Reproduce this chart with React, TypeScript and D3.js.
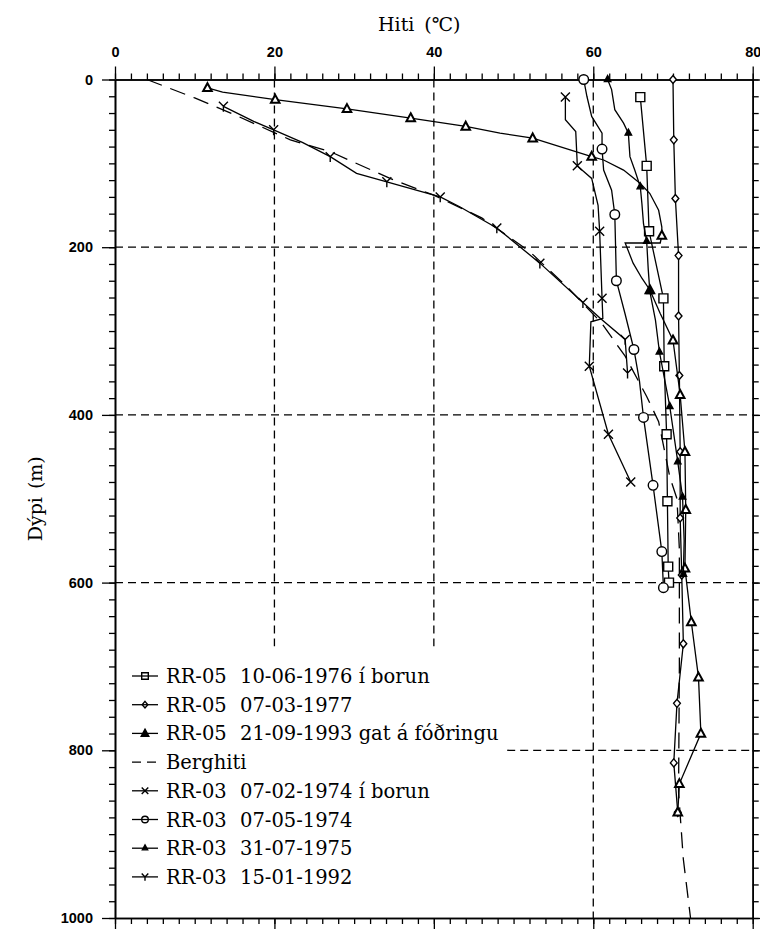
import React, { useEffect, useRef } from "react";
import * as d3 from "d3";

// RR-05 10-06-1976 í borun (ferningar)
const rr05_1976_T = [65.9, 66.7, 67.0, 68.8, 68.9, 69.2, 69.3, 69.4, 69.5];
const rr05_1976_D = [21, 103, 181, 261, 342, 423, 503, 581, 600];

// RR-05 07-03-1977 (tíglar)
const rr05_1977_T = [70.0, 70.1, 70.3, 70.7, 70.7, 70.8, 70.9, 70.9, 71.1, 71.3, 70.5, 70.1, 70.6];
const rr05_1977_D = [0, 72, 142, 210, 282, 353, 444, 523, 591, 673, 744, 815, 874];

// RR-05 21-09-1993 gat á fóðringu (þríhyrningar)
const rr05_1993_T = [11.6, 13.5, 20.1, 29.1, 37.1, 44.0, 48.3, 52.4, 59.8, 61.3, 63.8, 65.9, 67.1, 68.2, 68.6, 68.6, 68.4, 64.0, 65.0, 66.1, 67.1, 68.4, 70.0, 70.9, 71.5, 71.6, 71.5, 72.3, 73.2, 73.5, 70.8, 70.6];
const rr05_1993_D = [10, 15, 24, 35, 46, 56, 64, 70, 92, 96, 108, 124, 136, 156, 176, 186, 195, 195, 219, 237, 251, 279, 311, 376, 444, 513, 583, 647, 713, 780, 840, 874];
const rr05_1993_M = [0, 2, 3, 4, 5, 7, 8, 15, 20, 22, 23, 24, 25, 26, 27, 28, 29, 30, 31];

// Berghiti
const berg_T = [4, 10, 15, 22, 27, 34.5, 40, 46, 52, 57, 61, 64, 66.7, 68.2, 69.6, 70.5, 70.8, 70.8, 70.7, 71.3, 72.2];
const berg_D = [0, 22, 42, 72, 86, 118, 138, 165, 205, 250, 290, 330, 378, 408, 474, 500, 560, 700, 850, 930, 1000];

// RR-03 07-02-1974 í borun (krossar)
const rr03_1974a_T = [56.5, 56.5, 57.8, 58.0, 59.8, 60.6, 60.8, 61.1, 61.2, 59.7, 59.5, 61.9, 64.7];
const rr03_1974a_D = [21, 48, 62, 103, 118, 150, 181, 261, 285, 289, 342, 423, 480];
const rr03_1974a_M = [0, 3, 6, 7, 10, 11, 12];

// RR-03 07-05-1974 (hringir)
const rr03_1974b_T = [58.8, 59.2, 59.8, 61.1, 61.1, 61.3, 62.3, 62.7, 62.8, 62.9, 64.0, 65.1, 65.8, 66.3, 67.5, 68.6, 68.8];
const rr03_1974b_D = [0, 20, 44, 64, 83, 108, 132, 161, 200, 240, 280, 322, 360, 403, 484, 563, 606];
const rr03_1974b_M = [0, 4, 7, 9, 11, 13, 14, 15, 16];

// RR-03 31-07-1975 (örvar)
const rr03_1975_T = [61.8, 62.3, 62.7, 63.8, 64.4, 64.6, 65.2, 65.9, 66.1, 66.3, 66.7, 66.9, 67.1, 67.8, 68.3, 69.6, 70.6, 71.2, 71.4, 71.3];
const rr03_1975_D = [0, 12, 36, 52, 64, 92, 108, 128, 148, 172, 193, 227, 253, 287, 325, 390, 456, 498, 550, 590];
const rr03_1975_M = [0, 4, 7, 10, 12, 14, 15, 16, 17, 19];

// RR-03 15-01-1992 (Y)
const rr03_1992_T = [13.6, 17.4, 19.9, 23.5, 27.0, 30.3, 34.1, 40.8, 43.3, 47.9, 53.3, 58.7, 60.9, 64.0, 64.3];
const rr03_1992_D = [32, 50, 60, 75, 92, 112, 122, 140, 152, 177, 219, 266, 285, 310, 350];
const rr03_1992_M = [0, 2, 4, 6, 7, 9, 10, 11, 13, 14];

const legendWell = ["RR-05", "RR-05", "RR-05", "", "RR-03", "RR-03", "RR-03", "RR-03"];
const legendDate = ["10-06-1976 í borun", "07-03-1977", "21-09-1993 gat á fóðringu", "Berghiti", "07-02-1974 í borun", "07-05-1974", "31-07-1975", "15-01-1992"];
const legendSymbol = ["square", "diamond", "triangle", "dash", "cross", "circle", "arrow", "wye"];

const xTicks = [0, 20, 40, 60, 80];
const yTicks = [0, 200, 400, 600, 800, 1000];

const serif = "'DejaVu Serif', serif";
const sans = "'Liberation Sans', Arial, sans-serif";

function markerPath(kind: string, s: number): string {
  switch (kind) {
    case "square":
      return `M${-s},${-s}H${s}V${s}H${-s}Z`;
    case "diamond":
      return `M0,${-s}L${s * 0.85},0L0,${s}L${-s * 0.85},0Z`;
    case "triangle":
      return `M0,${-s * 1.1}L${s},${s * 0.75}L${-s},${s * 0.75}Z`;
    case "cross":
      return `M${-s},${-s}L${s},${s}M${-s},${s}L${s},${-s}`;
    case "arrow":
      return `M0,${-s}L${s * 0.8},${s * 0.5}L${-s * 0.8},${s * 0.5}Z`;
    case "wye":
      return `M0,0V${s * 1.2}M0,0L${-s},${-s}M0,0L${s},${-s}`;
    default:
      return "";
  }
}

export default function App() {
  const ref = useRef<SVGSVGElement>(null);

  useEffect(() => {
    const svg = d3.select(ref.current);
    svg.selectAll("*").remove();

    const x = d3.scaleLinear().domain([0, 80]).range([115, 752.7]);
    const y = d3.scaleLinear().domain([0, 1000]).range([79.5, 918]);

    svg.append("rect").attr("width", 760).attr("height", 929).attr("fill", "#fff");

    // grid
    const grid = svg.append("g").attr("stroke", "#000").attr("stroke-width", 1.3).attr("stroke-dasharray", "8,5");
    [200, 400, 600].forEach((d) => {
      grid.append("line").attr("x1", x(0)).attr("x2", x(80)).attr("y1", y(d)).attr("y2", y(d));
    });
    grid.append("line").attr("x1", x(49.2)).attr("x2", x(80)).attr("y1", y(800)).attr("y2", y(800));
    [20, 40].forEach((t) => {
      grid.append("line").attr("x1", x(t)).attr("x2", x(t)).attr("y1", y(0)).attr("y2", y(676));
    });
    grid.append("line").attr("x1", x(60)).attr("x2", x(60)).attr("y1", y(0)).attr("y2", y(1000));

    // axes
    const axisStyle = (g: any) => {
      g.selectAll("path").attr("stroke", "#000").attr("stroke-width", 1.6);
      g.selectAll("line").attr("stroke", "#000").attr("stroke-width", 1.3);
    };
    const labelStyle = (g: any) =>
      g.selectAll("text").attr("font-family", sans).attr("font-weight", "bold").attr("font-size", 14.5).attr("fill", "#000");
    const minorX = d3.range(0, 81, 2);
    const minorY = d3.range(0, 1001, 20);

    svg.append("g").attr("transform", `translate(0,${y(0)})`)
      .call(d3.axisTop(x).tickValues(minorX).tickSize(6).tickSizeOuter(0).tickFormat(() => ""))
      .call(axisStyle);
    svg.append("g").attr("transform", `translate(0,${y(0)})`)
      .call(d3.axisTop(x).tickValues(xTicks).tickSize(13).tickSizeOuter(0).tickPadding(10).tickFormat(d3.format("d")))
      .call(axisStyle)
      .call(labelStyle);

    svg.append("g").attr("transform", `translate(0,${y(1000)})`)
      .call(d3.axisBottom(x).tickValues(minorX).tickSize(6).tickSizeOuter(0).tickFormat(() => ""))
      .call(axisStyle);
    svg.append("g").attr("transform", `translate(0,${y(1000)})`)
      .call(d3.axisBottom(x).tickValues(xTicks).tickSize(13).tickSizeOuter(0).tickFormat(() => ""))
      .call(axisStyle);

    svg.append("g").attr("transform", `translate(${x(0)},0)`)
      .call(d3.axisLeft(y).tickValues(minorY).tickSize(6).tickSizeOuter(0).tickFormat(() => ""))
      .call(axisStyle);
    svg.append("g").attr("transform", `translate(${x(0)},0)`)
      .call(d3.axisLeft(y).tickValues(yTicks).tickSize(13).tickSizeOuter(0).tickPadding(9).tickFormat(d3.format("d")))
      .call(axisStyle)
      .call(labelStyle);

    svg.append("g").attr("transform", `translate(${x(80)},0)`)
      .call(d3.axisRight(y).tickValues(minorY).tickSize(6).tickSizeOuter(0).tickFormat(() => ""))
      .call(axisStyle);
    svg.append("g").attr("transform", `translate(${x(80)},0)`)
      .call(d3.axisRight(y).tickValues(yTicks).tickSize(13).tickSizeOuter(0).tickFormat(() => ""))
      .call(axisStyle);

    // titles
    const title = svg.append("text").attr("x", 378).attr("y", 31).attr("font-family", serif).attr("font-size", 19);
    title.append("tspan").text("Hiti");
    title.append("tspan").attr("dx", 10).text("(℃)");
    const ylab = svg.append("text").attr("transform", `translate(42,${(y(0) + y(1000)) / 2}) rotate(-90)`)
      .attr("text-anchor", "middle").attr("font-family", serif).attr("font-size", 19);
    ylab.append("tspan").text("Dýpi");
    ylab.append("tspan").attr("dx", 8).text("(m)");

    // series
    const line = d3.line<[number, number]>().x((d) => x(d[0])).y((d) => y(d[1]));
    const zip = (T: number[], D: number[]) => T.map((t, i) => [t, D[i]] as [number, number]);

    const series = [
      { pts: zip(rr05_1976_T, rr05_1976_D), m: rr05_1976_T.map((_, i) => i), kind: "square", s: 4.5 },
      { pts: zip(rr05_1977_T, rr05_1977_D), m: rr05_1977_T.map((_, i) => i), kind: "diamond", s: 4 },
      { pts: zip(rr05_1993_T, rr05_1993_D), m: rr05_1993_M, kind: "triangle", s: 4.3 },
      { pts: zip(rr03_1974a_T, rr03_1974a_D), m: rr03_1974a_M, kind: "cross", s: 4.5 },
      { pts: zip(rr03_1974b_T, rr03_1974b_D), m: rr03_1974b_M, kind: "circle", s: 4.8 },
      { pts: zip(rr03_1975_T, rr03_1975_D), m: rr03_1975_M, kind: "arrow", s: 4 },
      { pts: zip(rr03_1992_T, rr03_1992_D), m: rr03_1992_M, kind: "wye", s: 4.5 },
    ];

    svg.append("path").datum(zip(berg_T, berg_D)).attr("d", line)
      .attr("fill", "none").attr("stroke", "#000").attr("stroke-width", 1.3).attr("stroke-dasharray", "16,9");

    const drawMarker = (g: any, kind: string, cx: number, cy: number, s: number, legend: boolean) => {
      if (kind === "circle") {
        g.append("circle").attr("cx", cx).attr("cy", cy).attr("r", s)
          .attr("fill", legend ? "none" : "#fff").attr("stroke", "#000").attr("stroke-width", 1.4);
        return;
      }
      const filled = kind === "arrow" || (legend && kind === "triangle");
      const open = kind === "square" || kind === "diamond" || kind === "triangle";
      g.append("path").attr("d", markerPath(kind, s)).attr("transform", `translate(${cx},${cy})`)
        .attr("fill", filled ? "#000" : open && !legend ? "#fff" : "none")
        .attr("stroke", "#000").attr("stroke-width", kind === "triangle" ? 2 : 1.4);
    };

    series.forEach((se) => {
      const g = svg.append("g");
      g.append("path").datum(se.pts).attr("d", line).attr("fill", "none").attr("stroke", "#000").attr("stroke-width", 1.3);
      se.m.forEach((i) => drawMarker(g, se.kind, x(se.pts[i][0]), y(se.pts[i][1]), se.s, false));
    });

    // legend
    const lg = svg.append("g").attr("font-family", serif).attr("font-size", 19.5);
    legendDate.forEach((label, i) => {
      const ly = 676 + i * 28.7;
      if (legendSymbol[i] === "dash") {
        lg.append("line").attr("x1", 132).attr("x2", 158).attr("y1", ly).attr("y2", ly)
          .attr("stroke", "#000").attr("stroke-width", 1.3).attr("stroke-dasharray", "9,6");
        lg.append("text").attr("x", 166).attr("y", ly + 7).text(label);
        return;
      }
      lg.append("line").attr("x1", 132).attr("x2", 158).attr("y1", ly).attr("y2", ly).attr("stroke", "#000").attr("stroke-width", 1.3);
      drawMarker(lg, legendSymbol[i], 145, ly, 3.3, true);
      lg.append("text").attr("x", 166).attr("y", ly + 7).text(legendWell[i]);
      lg.append("text").attr("x", 240).attr("y", ly + 7).text(label);
    });
  }, []);

  return (
    <svg ref={ref} width={760} height={929} style={{ position: "absolute", left: 0, top: 0 }} />
  );
}
